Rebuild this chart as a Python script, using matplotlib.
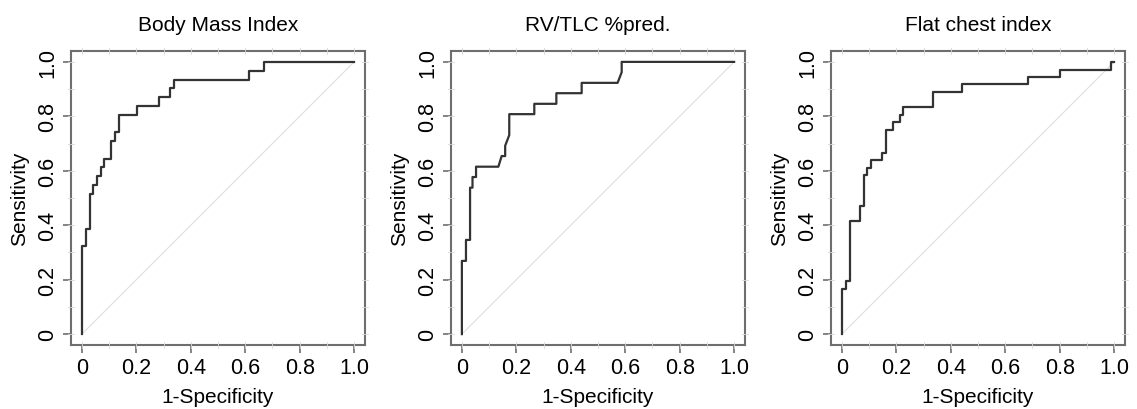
import numpy as np
import matplotlib
matplotlib.use("Agg")
import matplotlib.pyplot as plt

plt.rcParams['font.family'] = ['Liberation Sans', 'DejaVu Sans']

titles = ["Body Mass Index", "RV/TLC %pred.", "Flat chest index"]

# ROC corner points (1-specificity, sensitivity)
bmi_fpr = [0, 0, 0.015, 0.015, 0.029, 0.029, 0.042, 0.042, 0.054, 0.054, 0.069, 0.069,
           0.082, 0.082, 0.108, 0.108, 0.120, 0.120, 0.135, 0.135, 0.203, 0.203,
           0.282, 0.282, 0.322, 0.322, 0.338, 0.338, 0.614, 0.614, 0.668, 0.668, 1.0]
bmi_tpr = [0, 0.323, 0.323, 0.387, 0.387, 0.516, 0.516, 0.548, 0.548, 0.581, 0.581, 0.613,
           0.613, 0.645, 0.645, 0.710, 0.710, 0.742, 0.742, 0.806, 0.806, 0.839,
           0.839, 0.871, 0.871, 0.903, 0.903, 0.935, 0.935, 0.968, 0.968, 1.0, 1.0]

rv_fpr = [0, 0, 0.015, 0.015, 0.030, 0.030, 0.039, 0.039, 0.052, 0.052, 0.134, 0.146,
          0.159, 0.159, 0.174, 0.174, 0.266, 0.266, 0.347, 0.347, 0.440, 0.440,
          0.572, 0.587, 0.587, 1.0]
rv_tpr = [0, 0.269, 0.269, 0.346, 0.346, 0.538, 0.538, 0.577, 0.577, 0.615, 0.615, 0.654,
          0.654, 0.692, 0.731, 0.808, 0.808, 0.846, 0.846, 0.885, 0.885, 0.923,
          0.923, 0.962, 1.0, 1.0]

fci_fpr = [0, 0, 0.015, 0.015, 0.030, 0.030, 0.067, 0.067, 0.080, 0.080, 0.094, 0.094,
           0.107, 0.107, 0.147, 0.147, 0.161, 0.161, 0.187, 0.187, 0.214, 0.214,
           0.225, 0.225, 0.335, 0.335, 0.440, 0.440, 0.682, 0.682, 0.802, 0.802,
           0.988, 0.988, 1.0]
fci_tpr = [0, 0.167, 0.167, 0.194, 0.194, 0.417, 0.417, 0.472, 0.472, 0.583, 0.583, 0.611,
           0.611, 0.639, 0.639, 0.667, 0.667, 0.750, 0.750, 0.778, 0.778, 0.806,
           0.806, 0.833, 0.833, 0.889, 0.889, 0.917, 0.917, 0.944, 0.944, 0.972,
           0.972, 1.0, 1.0]

curves = [(bmi_fpr, bmi_tpr), (rv_fpr, rv_tpr), (fci_fpr, fci_tpr)]
ticks = [0, 0.2, 0.4, 0.6, 0.8, 1.0]
tick_labels = ["0", "0.2", "0.4", "0.6", "0.8", "1.0"]

fig = plt.figure(figsize=(11.37, 4.10), dpi=100)
lefts = [71, 451, 831]
frame = "#6e6e6e"

for left, (fpr, tpr), title in zip(lefts, curves, titles):
    ax = fig.add_axes([left / 1137, 64 / 410, 294 / 1137, 294 / 410])
    ax.plot([0, 1], [0, 1], color="#dddddd", lw=0.8, zorder=1)
    ax.plot(fpr, tpr, color="#333333", lw=1.6, zorder=3)
    ax.set_xlim(-0.04, 1.04)
    ax.set_ylim(-0.04, 1.04)
    # faint breaks in the frame every 0.1
    for v in np.arange(0, 1.01, 0.1):
        for a, b in [(-0.01, 0.01), (0.99, 1.01)]:
            ax.axvline(v, ymin=a, ymax=b, color="#d8d8d8", lw=0.6, zorder=2.6, clip_on=False)
            ax.axhline(v, xmin=a, xmax=b, color="#d8d8d8", lw=0.6, zorder=2.6, clip_on=False)
    ax.set_xticks(ticks)
    ax.set_xticklabels(tick_labels)
    ax.set_yticks(ticks)
    ax.set_yticklabels(tick_labels, rotation=90, va="center")
    ax.tick_params(labelsize=15.5, length=6, width=1.2, color=frame, pad=3)
    for s in ax.spines.values():
        s.set_color(frame)
        s.set_linewidth(1.5)
    ax.set_title(title, fontsize=15, pad=15)
    ax.set_xlabel("1-Specificity", fontsize=15, labelpad=6)
    ax.set_ylabel("Sensitivity", fontsize=15, labelpad=6)

fig.savefig("out.png", dpi=100)
